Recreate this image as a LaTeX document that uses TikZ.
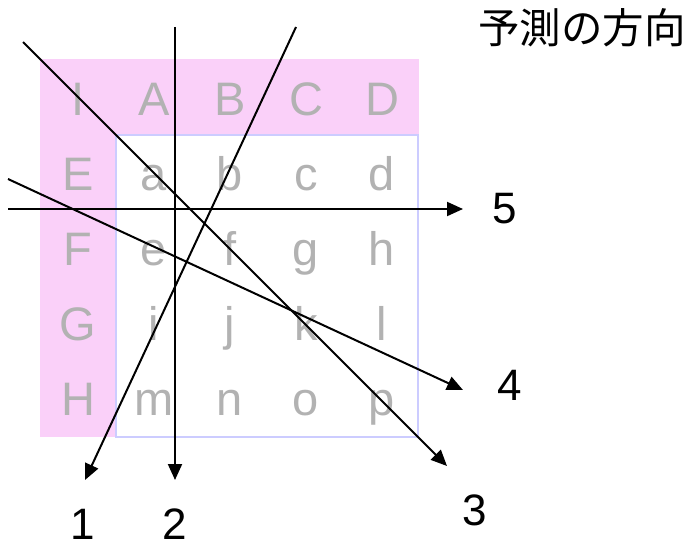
\documentclass[tikz,border=0pt]{standalone}
\usepackage{fontspec}
\setmainfont{Liberation Sans}
\newfontfamily\jpfont{Noto Sans CJK JP}
\usetikzlibrary{arrows.meta}
\definecolor{pinkbg}{HTML}{FAD0F9}
\definecolor{gridline}{HTML}{CCCCFF}
\definecolor{lettergray}{HTML}{B2B2B2}

\begin{document}
\begin{tikzpicture}[x=1pt, y=-1pt,
  cell/.style={anchor=base, inner sep=0pt, text=lettergray, font=\fontsize{47}{47}\selectfont},
  num/.style={inner sep=0pt, font=\fontsize{44}{44}\selectfont},
  dir/.style={-{Triangle[length=16pt,width=14pt]}, line width=2pt}
]
  \useasboundingbox (0,0) rectangle (692,543);
  % background blocks
  \fill[pinkbg] (40,59) rectangle (419,437);
  \draw[gridline, fill=white, line width=1.2pt] (116,135) rectangle (418,437);
  % letters of the 4x4 block with its headers
  \foreach \row/\letters in {0/{I,A,B,C,D}, 1/{E,a,b,c,d}, 2/{F,e,f,g,h}, 3/{G,i,j,k,l}, 4/{H,m,n,o,p}} {
    \foreach \ch [count=\col from 0] in \letters
      \node[cell] (c\row\col) at (78+76*\col, 115+75*\row) {\ch};
  }
  % title
  \node[inner sep=0pt, font=\jpfont\fontsize{41.5}{41.5}\selectfont] (title) at (582,28) {予測の方向};
  % direction lines
  \coordinate (s1) at (296,27);  \coordinate (e1) at (85,480);
  \coordinate (s2) at (175,27);  \coordinate (e2) at (175,480);
  \coordinate (s3) at (23,42);   \coordinate (e3) at (447,466);
  \coordinate (s4) at (8,179);   \coordinate (e4) at (463,390);
  \coordinate (s5) at (8,209);   \coordinate (e5) at (463,209);
  \draw[dir] (s1) -- (e1);
  \draw[dir] (s2) -- (e2);
  \draw[dir] (s3) -- (e3);
  \draw[dir] (s4) -- (e4);
  \draw[dir] (s5) -- (e5);
  % numbers
  \node[num] (n1) at (83,524) {1};
  \node[num] (n2) at (175,524) {2};
  \node[num] (n3) at (475,510) {3};
  \node[num] (n4) at (510,385) {4};
  \node[num] (n5) at (505,209) {5};
\end{tikzpicture}
\end{document}
